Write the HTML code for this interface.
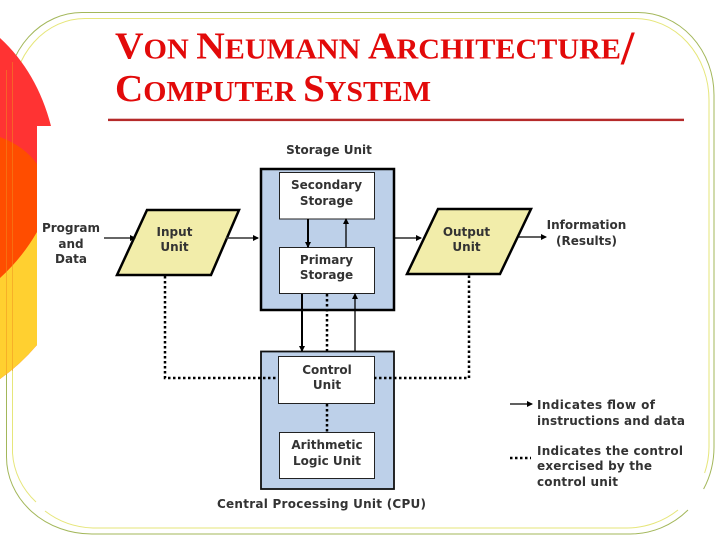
<!DOCTYPE html>
<html>
<head>
<meta charset="utf-8">
<style>
html,body{margin:0;padding:0;background:#fff;width:720px;height:540px;overflow:hidden}
svg{display:block}
.t{font-family:"Liberation Serif",serif;font-weight:bold;fill:#E20A0A}
.d{font-family:"DejaVu Sans",sans-serif;font-weight:bold;font-size:12px;fill:#333}
.m{text-anchor:middle}
</style>
</head>
<body>
<svg width="720" height="540" viewBox="0 0 720 540" xmlns="http://www.w3.org/2000/svg">
<defs>
<marker id="a" markerWidth="6" markerHeight="6" refX="5" refY="3" orient="auto" markerUnits="userSpaceOnUse"><path d="M0 0L6 3L0 6Z" fill="#000"/></marker>
</defs>

<!-- frame -->
<g fill="none" stroke-width="1">
<g stroke="#A3B75A">
<path d="M6.500 96A75.500 83.500 0 0 1 82 12.500H638A76 82.500 0 0 1 714 95V447A84 87 0 0 1 703.600 489"/>
<path d="M688 510A84 87 0 0 1 630 534H92A85.500 77 0 0 1 6.500 457V96"/>
</g>
<g stroke="#E6E67A">
<path d="M12.500 100A72.500 81.500 0 0 1 85 18.500H635A74 81.500 0 0 1 709 100V447A82 81 0 0 1 704.600 473"/>
<path d="M678 510A82 81 0 0 1 627 528H93A80 75 0 0 1 45 511"/>
<path d="M36 502A80 75 0 0 1 12.500 453V100"/>
</g>
</g>

<!-- left decoration -->
<path d="M0 38Q37 72 51 126H37V345Q20 365 0 379Z" fill="#FF3333"/>
<path d="M0 137Q24 146 37 164V232Q22 258 0 278Z" fill="#FF4D00"/>
<path d="M0 278Q22 258 37 232V345Q20 365 0 379Z" fill="#FFD030"/>
<path d="M6.500 70V375M12.500 62V371" stroke="#F09020" stroke-opacity=".5" stroke-width="1" fill="none"/>

<!-- title -->
<text class="t" x="115" y="58.500" textLength="506" lengthAdjust="spacingAndGlyphs" font-size="29"><tspan font-size="38">V</tspan>ON <tspan font-size="38">N</tspan>EUMANN <tspan font-size="38">A</tspan>RCHITECTURE</text>
<text class="t" x="621" y="64" font-size="48">/</text>
<text class="t" x="115" y="101" textLength="316" lengthAdjust="spacingAndGlyphs" font-size="29"><tspan font-size="38">C</tspan>OMPUTER <tspan font-size="38">S</tspan>YSTEM</text>
<rect x="108" y="118.700" width="576" height="2.400" fill="#B52A2A"/>

<!-- boxes -->
<rect x="261" y="169" width="133" height="141" fill="#BDD0E9" stroke="#000" stroke-width="2.500"/>
<rect x="279.500" y="172.500" width="95" height="46.500" fill="#fff" stroke="#222" stroke-width="1"/>
<rect x="279.500" y="247.500" width="95" height="46" fill="#fff" stroke="#222" stroke-width="1"/>
<rect x="261" y="351.500" width="133" height="137.500" fill="#BDD0E9" stroke="#111" stroke-width="1.800"/>
<rect x="278.500" y="356.500" width="96" height="47" fill="#fff" stroke="#222" stroke-width="1"/>
<rect x="279.500" y="432.500" width="95" height="46" fill="#fff" stroke="#222" stroke-width="1"/>
<path d="M147 210H239L211 275H117Z" fill="#F2EDAA" stroke="#000" stroke-width="2.500"/>
<path d="M438 209H531L500 274H407Z" fill="#F2EDAA" stroke="#000" stroke-width="2.500"/>

<!-- connectors -->
<g fill="none" stroke="#000">
<path d="M104 238H135" stroke="#333" stroke-width="1.500" marker-end="url(#a)"/>
<path d="M226 238H258" stroke="#333" stroke-width="1.500" marker-end="url(#a)"/>
<path d="M395 238H421" stroke-width="1.300" marker-end="url(#a)"/>
<path d="M517 237H546" stroke-width="1.300" marker-end="url(#a)"/>
<path d="M308 219V247" stroke-width="2" marker-end="url(#a)"/>
<path d="M346 247V219" stroke-width="1.300" marker-end="url(#a)"/>
<path d="M302 294V351" stroke-width="2" marker-end="url(#a)"/>
<path d="M355 351V294" stroke-width="1.300" marker-end="url(#a)"/>
<path d="M510 404H532" stroke-width="1.300" marker-end="url(#a)"/>
<g stroke-width="2.500" stroke-dasharray="2.500 2.500">
<path d="M165 276V378H278"/>
<path d="M374 378H469V275"/>
<path d="M327 294V351"/>
<path d="M327 404V432"/>
<path d="M510 458H531"/>
</g>
</g>

<!-- labels -->
<text class="d m" x="329" y="154">Storage Unit</text>
<text class="d m" x="326.500" y="189">Secondary</text>
<text class="d m" x="326.500" y="205">Storage</text>
<text class="d m" x="326.500" y="264">Primary</text>
<text class="d m" x="326.500" y="279">Storage</text>
<text class="d m" x="327" y="374">Control</text>
<text class="d m" x="327" y="389">Unit</text>
<text class="d m" x="327" y="449">Arithmetic</text>
<text class="d m" x="327" y="465">Logic Unit</text>
<text class="d m" x="321.500" y="508" textLength="209">Central Processing Unit (CPU)</text>
<text class="d m" x="71" y="232">Program</text>
<text class="d m" x="71" y="248">and</text>
<text class="d m" x="71" y="263">Data</text>
<text class="d m" x="174.500" y="236">Input</text>
<text class="d m" x="174.500" y="251">Unit</text>
<text class="d m" x="466.500" y="236">Output</text>
<text class="d m" x="466.500" y="251">Unit</text>
<text class="d m" x="586.500" y="229">Information</text>
<text class="d m" x="586.500" y="245">(Results)</text>
<text class="d" x="537" y="409" textLength="118">Indicates flow of</text>
<text class="d" x="537" y="425" textLength="148">instructions and data</text>
<text class="d" x="537" y="455" textLength="146">Indicates the control</text>
<text class="d" x="537" y="470" textLength="115">exercised by the</text>
<text class="d" x="537" y="486" textLength="81">control unit</text>
</svg>
</body>
</html>
